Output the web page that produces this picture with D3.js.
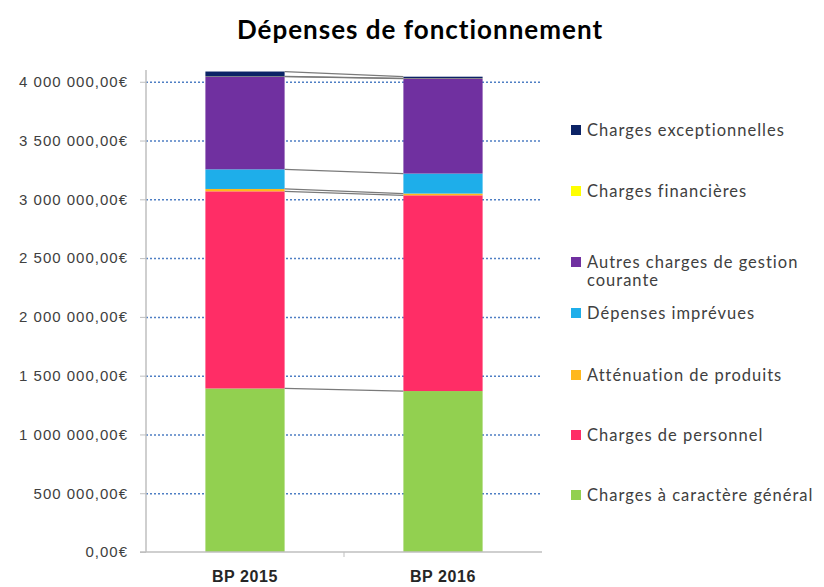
<!DOCTYPE html>
<html>
<head>
<meta charset="utf-8">
<script src="https://cdn.jsdelivr.net/npm/d3@7"></script>
<style>
  body { margin: 0; background: #fff; }
  svg { font-family: Lato, "Open Sans", sans-serif; }
</style>
</head>
<body>
<svg id="chart"></svg>
<script>

var categories = ["BP 2015", "BP 2016"];

// bottom to top, as stacked
var seriesNames = [
    "Charges à caractère général",
    "Charges de personnel",
    "Atténuation de produits",
    "Dépenses imprévues",
    "Autres charges de gestion courante",
    "Charges financières",
    "Charges exceptionnelles"
];

var generalValues     = [1391000, 1369000];
var personnelValues   = [1677000, 1665000];
var attenuationValues = [20000, 15000];
var imprevuesValues   = [167000, 170000];
var autresValues      = [788000, 808000];
var financieresValues = [2000, 2000];
var exceptionValues   = [42000, 14000];

var yTicks = [0, 500000, 1000000, 1500000, 2000000, 2500000, 3000000, 3500000, 4000000];

var colors = ["#92D050", "#FF2D66", "#FFB81C", "#1EAEEA", "#7030A0", "#FFFF00", "#0B2366"];

var screen = {width: 824, height: 587};
var margins = {top: 70, bottom: 35, left: 146, right: 282};

var graph = {
    width: screen.width - margins.left - margins.right,
    height: screen.height - margins.top - margins.bottom
};

var table = categories.map(function(c, i) {
    return {
        cat: c,
        "Charges à caractère général": generalValues[i],
        "Charges de personnel": personnelValues[i],
        "Atténuation de produits": attenuationValues[i],
        "Dépenses imprévues": imprevuesValues[i],
        "Autres charges de gestion courante": autresValues[i],
        "Charges financières": financieresValues[i],
        "Charges exceptionnelles": exceptionValues[i]
    };
});

var series = d3.stack().keys(seriesNames)(table);

var xScale = d3.scaleBand()
    .domain(categories)
    .range([0, graph.width])
    .paddingInner(0.6)
    .paddingOuter(0.3);

var yScale = d3.scaleLinear()
    .domain([0, 4100000])
    .range([graph.height, 0]);

var svg = d3.select("#chart")
    .attr("width", screen.width)
    .attr("height", screen.height);

svg.append("text")
    .attr("x", 420)
    .attr("y", 39)
    .attr("text-anchor", "middle")
    .style("font-size", "26px")
    .style("letter-spacing", "1px")
    .style("font-weight", "bold")
    .attr("fill", "#000")
    .text("Dépenses de fonctionnement");

var g = svg.append("g")
    .attr("transform", "translate(" + margins.left + "," + margins.top + ")");

// gridlines
g.selectAll("line.grid")
    .data(yTicks.slice(1))
    .enter()
    .append("line")
    .classed("grid", true)
    .attr("x1", 0)
    .attr("x2", graph.width)
    .attr("y1", function(d) { return yScale(d) + 0.5; })
    .attr("y2", function(d) { return yScale(d) + 0.5; })
    .attr("stroke", "#4F7FC4")
    .attr("stroke-width", 1.5)
    .attr("stroke-dasharray", "2,2");

// bars
var groups = g.selectAll("g.layer")
    .data(series)
    .enter()
    .append("g")
    .classed("layer", true)
    .attr("fill", function(d, i) { return colors[i]; });

groups.selectAll("rect")
    .data(function(d) { return d; })
    .enter()
    .append("rect")
    .attr("x", function(d) { return xScale(d.data.cat); })
    .attr("y", function(d) { return yScale(d[1]); })
    .attr("height", function(d) { return yScale(d[0]) - yScale(d[1]); })
    .attr("width", xScale.bandwidth());

// series lines between bars
g.selectAll("line.serie")
    .data(series)
    .enter()
    .append("line")
    .classed("serie", true)
    .attr("x1", xScale(categories[0]) + xScale.bandwidth())
    .attr("x2", xScale(categories[1]))
    .attr("y1", function(d) { return yScale(d[0][1]); })
    .attr("y2", function(d) { return yScale(d[1][1]); })
    .attr("stroke", "#7a7a7a")
    .attr("stroke-width", 1.3);

// axes
var yAxis = d3.axisLeft(yScale)
    .tickValues(yTicks)
    .tickSize(6)
    .tickPadding(12)
    .tickFormat(function(d) {
        return d3.format(",.2f")(d).replace(/,/g, " ").replace(".", ",") + "€";
    });

var yG = g.append("g").call(yAxis);
yG.select(".domain").attr("stroke", "#bfbfbf").attr("stroke-width", 1.5)
    .attr("d", "M0," + graph.height + "V0");
yG.selectAll(".tick line").attr("stroke", "#bfbfbf");
yG.selectAll(".tick text")
    .attr("fill", "#404040")
    .style("font-size", "15px")
    .style("letter-spacing", "1px");

var xAxis = d3.axisBottom(xScale).tickSize(0).tickPadding(19);
var xG = g.append("g")
    .attr("transform", "translate(0," + graph.height + ")")
    .call(xAxis);
xG.select(".domain").attr("stroke", "#bfbfbf").attr("stroke-width", 1.5)
    .attr("d", "M-6,0H" + graph.width);
xG.append("line")
    .attr("x1", graph.width / 2).attr("x2", graph.width / 2)
    .attr("y1", 0).attr("y2", 5)
    .attr("stroke", "#bfbfbf");
xG.selectAll(".tick text")
    .attr("fill", "#262626")
    .style("font-size", "16px")
    .style("letter-spacing", "0.6px")
    .style("font-weight", "bold");

// legend, top entry = last series
var legendItems = seriesNames.slice().reverse();
var legendColors = colors.slice().reverse();
var legendY = [130, 191, 262, 313, 375, 435, 495];

var legend = svg.append("g")
    .attr("transform", "translate(571,0)");

var entries = legend.selectAll("g")
    .data(legendItems)
    .enter()
    .append("g")
    .attr("transform", function(d, i) { return "translate(0," + legendY[i] + ")"; });

entries.append("rect")
    .attr("y", -5)
    .attr("width", 10)
    .attr("height", 10)
    .attr("fill", function(d, i) { return legendColors[i]; });

entries.each(function(d) {
    var t = d3.select(this).append("text")
        .attr("x", 16)
        .attr("fill", "#404040")
        .style("font-size", "16.5px")
        .style("letter-spacing", "1px");
    if (d === "Autres charges de gestion courante") {
        t.append("tspan").attr("x", 16).attr("dy", "0.35em").text("Autres charges de gestion");
        t.append("tspan").attr("x", 16).attr("dy", "1.1em").text("courante");
    } else {
        t.attr("dy", "0.35em").text(d);
    }
});
</script>
</body>
</html>
